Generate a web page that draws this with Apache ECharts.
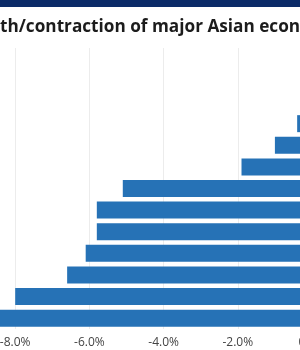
<!DOCTYPE html>
<html>
<head>
<meta charset="utf-8">
<script src="https://cdn.jsdelivr.net/npm/echarts@6/dist/echarts.min.js"></script>
<style>
html,body{margin:0;padding:0;width:300px;height:350px;overflow:hidden;background:#fff;}
#band{position:absolute;left:0;top:0;width:300px;height:7px;background:#0b2b68;}
#chart{position:absolute;left:-200px;top:0;width:560px;height:350px;}
</style>
</head>
<body>
<div id="chart"></div>
<div id="band"></div>
<script>
// Data (top three rows lie off the visible area, values estimated)
const titleText = 'Growth/contraction of major Asian economies';
const categories = ['Taiwan','Vietnam','China','South Korea','Indonesia','Japan','Malaysia','Singapore','Hong Kong','Thailand','India','Philippines','Economy 13'];
const growth = [2.5, 2.0, 1.2, -0.4, -1.0, -1.9, -5.1, -5.8, -5.8, -6.1, -6.6, -8.0, -9.6];
const xTicks = {min: -10, max: 0, interval: 2};

const OFFSET = 200; // container shifted left by this many px
const W = 560;
const chart = echarts.init(document.getElementById('chart'));

const ctx = document.createElement('canvas').getContext('2d');
ctx.font = 'bold 100px "Open Sans"';
const visW = ctx.measureText('th/contraction of major Asian econ').width;
const fs = Math.round(100 * 300 / visW * 10) / 10;
const titleFont = 'bold ' + fs + 'px "Open Sans"';
ctx.font = titleFont;
const hiddenW = ctx.measureText('Grow').width;

const zeroX = 312, leftX = -59; // page x of 0% and -10%
chart.setOption({
  animation: false,
  graphic: [{
    type: 'text',
    left: OFFSET - hiddenW,
    top: 19,
    style: {text: titleText, font: titleFont, fill: '#1c1c1c'}
  }],
  grid: {left: OFFSET + leftX, right: W - OFFSET - zeroX, top: 48, bottom: 21, containLabel: false},
  xAxis: {
    type: 'value', min: xTicks.min, max: xTicks.max, interval: xTicks.interval,
    axisLine: {show: false}, axisTick: {show: false},
    splitLine: {lineStyle: {color: '#ececec', width: 1}},
    axisLabel: {
      color: '#444', fontSize: 12, fontFamily: 'Open Sans', margin: 8,
      formatter: v => v.toFixed(1) + '%'
    }
  },
  yAxis: {
    type: 'category', data: categories, inverse: true,
    axisLine: {show: false}, axisTick: {show: false},
    axisLabel: {color: '#444', fontSize: 12}
  },
  series: [{
    type: 'bar', data: growth, barWidth: 17,
    itemStyle: {color: '#2672b6'}
  }]
});
</script>
</body>
</html>
